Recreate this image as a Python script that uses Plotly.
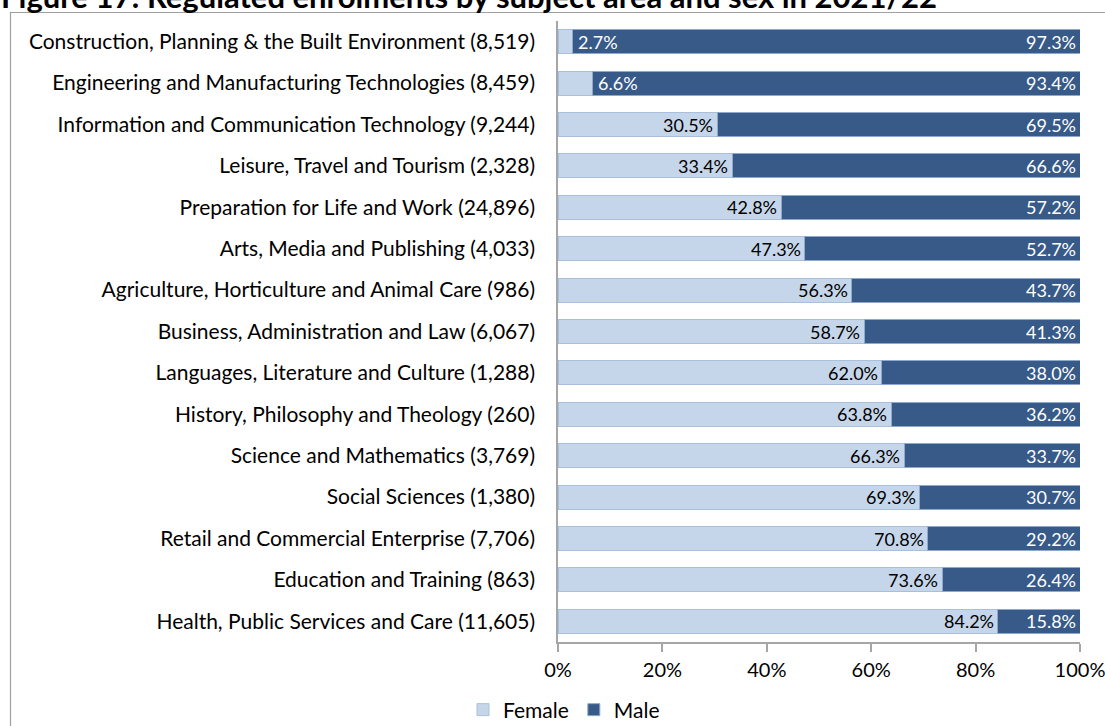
import plotly.graph_objects as go

categories = [
    "Construction, Planning & the Built Environment (8,519)",
    "Engineering and Manufacturing Technologies (8,459)",
    "Information and Communication Technology (9,244)",
    "Leisure, Travel and Tourism (2,328)",
    "Preparation for Life and Work (24,896)",
    "Arts, Media and Publishing (4,033)",
    "Agriculture, Horticulture and Animal Care (986)",
    "Business, Administration and Law (6,067)",
    "Languages, Literature and Culture (1,288)",
    "History, Philosophy and Theology (260)",
    "Science and Mathematics (3,769)",
    "Social Sciences (1,380)",
    "Retail and Commercial Enterprise (7,706)",
    "Education and Training (863)",
    "Health, Public Services and Care (11,605)",
]
female = [2.7, 6.6, 30.5, 33.4, 42.8, 47.3, 56.3, 58.7, 62.0, 63.8, 66.3, 69.3, 70.8, 73.6, 84.2]
male = [97.3, 93.4, 69.5, 66.6, 57.2, 52.7, 43.7, 41.3, 38.0, 36.2, 33.7, 30.7, 29.2, 26.4, 15.8]
x_ticks = [0, 20, 40, 60, 80, 100]
x_tick_labels = ["0%", "20%", "40%", "60%", "80%", "100%"]
title_text = "Figure 17: Regulated enrolments by subject area and sex in 2021/22"

FONT = "Lato"
W, H = 1105, 726
ML, MR, MT, MB = 558, 25, 21, 84
PW = W - ML - MR
PH = H - MT - MB


def px_x(p):
    return (p - ML) / PW


def px_y(p):
    return (H - MB - p) / PH


SMALL = 10
LABEL_SIZE = 18

fig = go.Figure()
fig.add_trace(go.Bar(
    y=categories, x=female, orientation="h", name="Female",
    marker=dict(color="#C6D6EA", line=dict(color="#A9C0DD", width=1)),
    hoverinfo="x+y",
))
fig.add_trace(go.Bar(
    y=categories, x=male, orientation="h", name="Male",
    marker=dict(color="#375A89", line=dict(color="#8EA9CC", width=1)),
    hoverinfo="x+y",
))

annotations = []
for c, f, m in zip(categories, female, male):
    if f < SMALL:
        annotations.append(dict(
            x=f, y=c, xref="x", yref="y", text=f"{f:.1f}%", showarrow=False,
            xanchor="left", xshift=4, font=dict(family=FONT, size=LABEL_SIZE, color="#FFFFFF"),
        ))
    else:
        annotations.append(dict(
            x=f, y=c, xref="x", yref="y", text=f"{f:.1f}%", showarrow=False,
            xanchor="right", xshift=-2, font=dict(family=FONT, size=LABEL_SIZE, color="#000000"),
        ))
    annotations.append(dict(
        x=f + m, y=c, xref="x", yref="y", text=f"{m:.1f}%", showarrow=False,
        xanchor="right", xshift=-2, font=dict(family=FONT, size=LABEL_SIZE, color="#FFFFFF"),
    ))

annotations.append(dict(
    x=px_x(-1), y=px_y(17.5), xref="paper", yref="paper", text="<b>" + title_text + "</b>",
    showarrow=False, xanchor="left", yanchor="bottom",
    font=dict(family=FONT, size=31, color="#000000"),
))

fig.update_layout(
    width=W, height=H,
    margin=dict(l=ML, r=MR, t=MT, b=MB, pad=0, autoexpand=False),
    barmode="stack", bargap=0.42,
    plot_bgcolor="#FFFFFF", paper_bgcolor="#FFFFFF",
    font=dict(family=FONT, size=21, color="#000000"),
    xaxis=dict(
        range=[0, 100], tickvals=x_ticks, ticktext=x_tick_labels,
        showgrid=False, zeroline=False, showline=True, linecolor="#A6A6A6", linewidth=1.5,
        ticks="outside", ticklen=8, tickcolor="#A6A6A6", tickwidth=1.5,
        tickfont=dict(family=FONT, size=20, color="#000000"), ticklabelstandoff=1,
        ticklabeloverflow="allow", fixedrange=True,
    ),
    yaxis=dict(
        autorange="reversed", showgrid=False, zeroline=False,
        showline=True, linecolor="#A6A6A6", linewidth=1.5,
        ticks="", ticklabelstandoff=17,
        tickfont=dict(family=FONT, size=21, color="#000000"),
    ),
    legend=dict(
        orientation="h", x=px_x(564), y=px_y(710), xanchor="center", yanchor="middle",
        font=dict(family=FONT, size=21, color="#000000"), traceorder="normal",
        bgcolor="rgba(0,0,0,0)",
    ),
    showlegend=True,
    annotations=annotations,
    shapes=[dict(
        type="rect", xref="paper", yref="paper",
        x0=px_x(10.5), x1=px_x(1200), y0=px_y(800), y1=px_y(12.5),
        line=dict(color="#A0A0A0", width=1.2), fillcolor="rgba(0,0,0,0)", layer="below",
    )],
)

fig.write_html(
    "out.html",
    config={"displayModeBar": False},
    post_script="document.body.style.margin='0';document.body.style.overflow='hidden';",
)
